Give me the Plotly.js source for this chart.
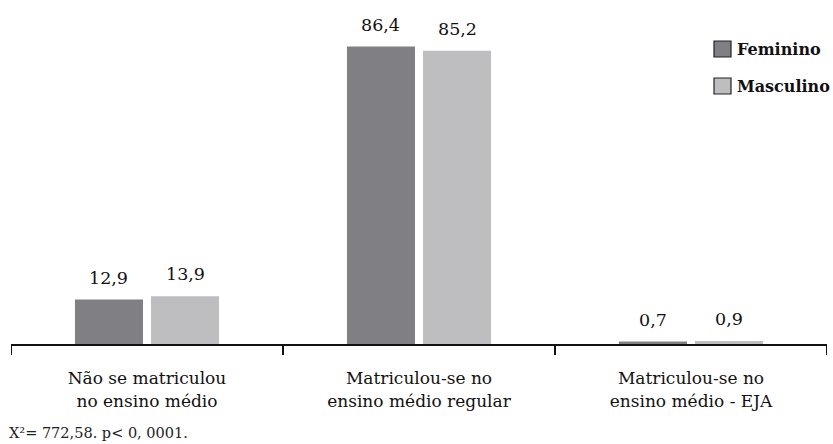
<!DOCTYPE html>
<html>
<head>
<meta charset="utf-8">
<script src="https://cdn.plot.ly/plotly-3.0.1.min.js"></script>
<style>html,body{margin:0;padding:0;background:#fff;}#chart{width:833px;height:444px;}</style>
</head>
<body>
<div id="chart"></div>
<script>
var categories = ["Não se matriculou<br>no ensino médio", "Matriculou-se no<br>ensino médio regular", "Matriculou-se no<br>ensino médio - EJA"];
var feminino = [12.9, 86.4, 0.7];
var masculino = [13.9, 85.2, 0.9];
var feminoLabels = ["12,9", "86,4", "0,7"];
var masculinoLabels = ["13,9", "85,2", "0,9"];
var seriesNames = ["Feminino", "Masculino"];
var colors = ["#7f7f84", "#bebec0"];

var W = 833, H = 444;
var M = {l: 11, r: 6, t: 10, b: 100};
var bargap = 0.441, bargroupgap = 0.105;
var FONT = "DejaVu Serif";

function px(x) { return (x - M.l) / (W - M.l - M.r); }
function py(y) { return (H - M.b - y) / (H - M.t - M.b); }

var traces = [
  {type: "bar", x: [0,1,2], y: feminino, name: seriesNames[0], marker: {color: colors[0]}, showlegend: false, hoverinfo: "none"},
  {type: "bar", x: [0,1,2], y: masculino, name: seriesNames[1], marker: {color: colors[1]}, showlegend: false, hoverinfo: "none"}
];

var off = (1 - bargap) / 4;
var annotations = [];
[feminino, masculino].forEach(function (vals, s) {
  var labels = s === 0 ? feminoLabels : masculinoLabels;
  vals.forEach(function (v, i) {
    annotations.push({x: i + (s === 0 ? -off : off), y: v, xref: "x", yref: "y", text: labels[i],
      showarrow: false, yanchor: "middle", yshift: 22, font: {family: FONT, size: 17.5, color: "#111"}});
  });
});
annotations.push({x: px(7), y: py(433), xref: "paper", yref: "paper", xanchor: "left", yanchor: "middle",
  text: "X²= 772,58. p< 0, 0001.", showarrow: false, font: {family: FONT, size: 14.5, color: "#222"}});

var shapes = [];
var legY = [41, 78];
seriesNames.forEach(function (n, s) {
  shapes.push({type: "rect", xref: "paper", yref: "paper", x0: px(714), x1: px(731), y0: py(legY[s] + 16), y1: py(legY[s]),
    fillcolor: colors[s], line: {color: "#222", width: 1.2}});
  annotations.push({x: px(735), y: py(legY[s] + 8.5), xref: "paper", yref: "paper", xanchor: "left", yanchor: "middle",
    text: "<b>" + n + "</b>", showarrow: false, font: {family: FONT, size: 16, color: "#111"}});
});

var layout = {
  width: W, height: H,
  margin: M,
  paper_bgcolor: "#fff", plot_bgcolor: "#fff",
  barmode: "group", bargap: bargap, bargroupgap: bargroupgap,
  xaxis: {
    range: [-0.5, 2.5], tickmode: "array", tickvals: [0,1,2], ticktext: categories,
    showline: true, linecolor: "#111", linewidth: 2, showgrid: false, zeroline: false,
    ticks: "", ticklabelstandoff: 18, tickfont: {family: FONT, size: 17, color: "#111"}, fixedrange: true
  },
  yaxis: {range: [0, 97], visible: false, showgrid: false, zeroline: false, fixedrange: true},
  annotations: annotations,
  shapes: shapes.concat([-0.5, 0.5, 1.5, 2.5].map(function (b) {
    return {type: "line", xref: "x", yref: "paper", x0: b, x1: b, y0: 0, y1: py(355), line: {color: "#111", width: 2}};
  })),
  font: {family: FONT}
};

Plotly.newPlot("chart", traces, layout, {displayModeBar: false, staticPlot: true});
</script>
</body>
</html>
